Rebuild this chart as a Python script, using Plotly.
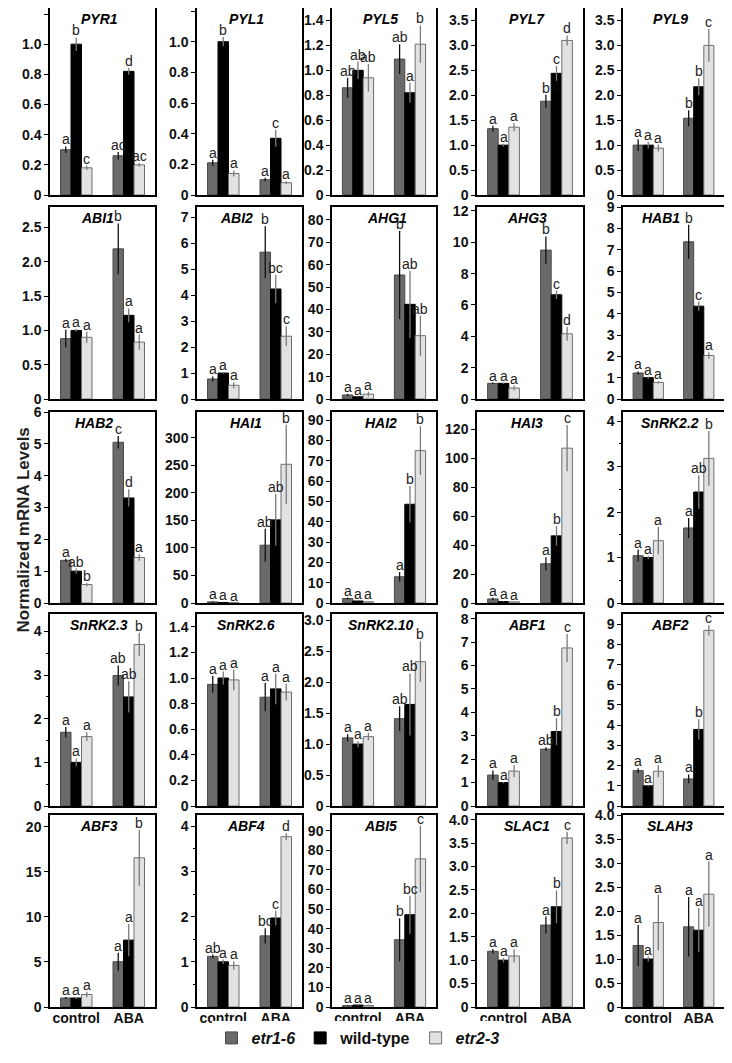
import plotly.graph_objects as go

genes = ["PYR1", "PYL1", "PYL5", "PYL7", "PYL9",
         "ABI1", "ABI2", "AHG1", "AHG3", "HAB1",
         "HAB2", "HAI1", "HAI2", "HAI3", "SnRK2.2",
         "SnRK2.3", "SnRK2.6", "SnRK2.10", "ABF1", "ABF2",
         "ABF3", "ABF4", "ABI5", "SLAC1", "SLAH3"]
conditions = ["control", "ABA"]
series_names = ["etr1-6", "wild-type", "etr2-3"]

# [control, ABA] per gene
etr1_6 = [[0.30, 0.26], [0.21, 0.10], [0.86, 1.09], [1.33, 1.88], [1.00, 1.54],
          [0.88, 2.19], [0.77, 5.66], [1.8, 55.4], [1.00, 9.5], [1.22, 7.37],
          [1.34, 5.05], [2.0, 105], [2.2, 12.9], [2.8, 27.1], [1.04, 1.65],
          [1.69, 2.99], [0.95, 0.85], [1.10, 1.41], [1.32, 2.43], [1.75, 1.34],
          [1.0, 5.02], [1.12, 1.575], [0.7, 34.3], [1.19, 1.75], [1.28, 1.67]]
wild_type = [[1.00, 0.82], [1.00, 0.37], [1.00, 0.82], [1.00, 2.44], [1.00, 2.17],
             [1.00, 1.22], [1.00, 4.24], [1.0, 42.3], [1.00, 6.65], [1.00, 4.35],
             [1.00, 3.30], [1.0, 151], [1.0, 48.6], [1.0, 46.4], [1.00, 2.44],
             [1.00, 2.50], [1.00, 0.915], [1.00, 1.64], [1.00, 3.18], [1.00, 3.79],
             [1.0, 7.42], [1.00, 1.97], [1.0, 47.1], [1.00, 2.14], [1.00, 1.60]]
etr2_3 = [[0.18, 0.20], [0.14, 0.08], [0.94, 1.21], [1.36, 3.10], [0.94, 3.00],
          [0.90, 0.83], [0.53, 2.42], [2.2, 28.3], [0.70, 4.16], [0.78, 2.04],
          [0.58, 1.43], [0.5, 252], [0.6, 75], [0.8, 107], [1.37, 3.18],
          [1.59, 3.70], [0.985, 0.89], [1.12, 2.33], [1.49, 6.75], [1.72, 8.69],
          [1.39, 16.55], [0.92, 3.77], [0.8, 75.6], [1.09, 3.61], [1.76, 2.35]]

etr1_6_err = [[0.022, 0.025], [0.02, 0.012], [0.08, 0.12], [0.06, 0.13], [0.12, 0.16],
              [0.13, 0.37], [0.1, 1.0], [0.5, 19.7], [0.05, 0.87], [0.07, 0.8],
              [0.05, 0.2], [1.0, 30], [0.5, 2.3], [0.8, 4.6], [0.13, 0.22],
              [0.12, 0.23], [0.065, 0.11], [0.06, 0.2], [0.2, 0.08], [0.12, 0.22],
              [0.1, 1.0], [0.04, 0.17], [0.2, 11], [0.05, 0.18], [0.43, 0.62]]
wild_type_err = [[0.045, 0.022], [0.03, 0.055], [0.07, 0.08], [0.03, 0.15], [0.07, 0.17],
                 [0.02, 0.10], [0.03, 0.55], [0.1, 15], [0.05, 0.27], [0.05, 0.22],
                 [0.08, 0.27], [0.3, 47], [0.2, 9], [0.3, 6.8], [0.04, 0.37],
                 [0.09, 0.36], [0.05, 0.12], [0.05, 0.5], [0.03, 0.57], [0.03, 0.5],
                 [0.1, 1.8], [0.05, 0.16], [0.2, 9.7], [0.05, 0.35], [0.05, 0.46]]
etr2_3_err = [[0.015, 0.012], [0.02, 0.01], [0.11, 0.15], [0.08, 0.1], [0.07, 0.33],
              [0.08, 0.11], [0.12, 0.38], [1.1, 9], [0.15, 0.45], [0.05, 0.15],
              [0.05, 0.1], [0.2, 72], [0.2, 12], [0.2, 16], [0.3, 0.6],
              [0.1, 0.27], [0.08, 0.065], [0.06, 0.33], [0.25, 0.6], [0.3, 0.25],
              [0.3, 3.1], [0.09, 0.08], [0.3, 17], [0.14, 0.13], [0.58, 0.68]]

etr1_6_letters = [["a", "ac"], ["a", "a"], ["ab", "ab"], ["a", "b"], ["a", "b"],
                  ["a", "b"], ["a", "b"], ["a", "b"], ["a", "b"], ["a", "b"],
                  ["a", "c"], ["a", "ab"], ["a", "a"], ["a", "a"], ["a", "a"],
                  ["a", "ab"], ["a", "a"], ["a", "ab"], ["a", "ab"], ["a", "a"],
                  ["a", "a"], ["ab", "bc"], ["a", "b"], ["a", "a"], ["a", "a"]]
wild_type_letters = [["b", "d"], ["b", "c"], ["ab", "a"], ["a", "c"], ["a", "b"],
                     ["a", "a"], ["a", "bc"], ["a", "ab"], ["a", "c"], ["a", "c"],
                     ["ab", "d"], ["a", "ab"], ["a", "b"], ["a", "b"], ["a", "ab"],
                     ["a", "ab"], ["a", "a"], ["a", "ab"], ["a", "b"], ["a", "b"],
                     ["a", "a"], ["a", "c"], ["a", "bc"], ["a", "b"], ["a", "a"]]
etr2_3_letters = [["c", "ac"], ["a", "a"], ["ab", "b"], ["a", "d"], ["a", "c"],
                  ["a", "a"], ["a", "c"], ["a", "ab"], ["a", "d"], ["a", "a"],
                  ["b", "a"], ["a", "b"], ["a", "b"], ["a", "c"], ["a", "b"],
                  ["a", "b"], ["a", "a"], ["a", "b"], ["a", "c"], ["a", "c"],
                  ["a", "b"], ["a", "d"], ["a", "c"], ["a", "c"], ["a", "a"]]

# y axis: top of range, tick step, minor ticks
y_max = [1.24, 1.22, 1.5, 3.75, 3.75,
         2.8, 7.4, 85.8, 12.25, 9.0,
         6.0, 347, 94, 132, 4.2,
         4.4, 1.5, 3.1, 8.2, 9.5,
         21.3, 4.25, 98, 4.1, 4.0]
y_step = [0.2, 0.2, 0.2, 0.5, 0.5,
          0.5, 1, 10, 2, 1,
          1, 50, 10, 20, 1,
          1, 0.2, 0.5, 1, 1,
          5, 1, 10, 0.5, 0.5]
minor_genes = ["SnRK2.2", "SnRK2.3", "ABF4"]
# titles sit left of centre where a letter would hit them
title_shift = {"ABI1": 0.28, "ABI2": 0.38, "AHG1": 0.32, "HAB1": 0.38, "HAB2": 0.42}

# the page adds an 8px body margin; the figure fits inside it exactly
OFF = 8
W, H = 716, 1047
col_px = [(50, 155), (197, 302), (332, 436), (477, 583), (623, 729)]
row_px = [(3, 195), (207, 399), (412, 603), (614, 806), (815, 1007)]


def px_x(p):
    return min(1.0, max(0.0, (p - OFF) / W))


def px_y(p):
    return min(1.0, max(0.0, 1 - (p - OFF) / H))


colors = ["#6a6a6a", "#000000", "#e2e2e2"]
line_colors = ["#4a4a4a", "#000000", "#6e6e6e"]
err_colors = ["#111111", "#7a7a7a", "#7a7a7a"]
FONT = "Liberation Sans"

values = [etr1_6, wild_type, etr2_3]
errors = [etr1_6_err, wild_type_err, etr2_3_err]
letters = [etr1_6_letters, wild_type_letters, etr2_3_letters]

fig = go.Figure()
annotations = []
layout = {}

for i, gene in enumerate(genes):
    r, c = divmod(i, 5)
    n = i + 1
    xa = "x" if n == 1 else f"x{n}"
    ya = "y" if n == 1 else f"y{n}"
    for k in range(3):
        fig.add_trace(go.Bar(
            x=conditions, y=values[k][i], name=series_names[k],
            xaxis=xa, yaxis=ya, offsetgroup=str(k),
            marker=dict(color=colors[k], line=dict(color=line_colors[k], width=1)),
            error_y=dict(type="data", array=errors[k][i], width=0,
                         thickness=1.3, color=err_colors[k]),
            showlegend=(i == 0), legendgroup=series_names[k],
        ))
        for g in range(2):
            annotations.append(dict(
                x=g + (k - 1) * 0.2, y=values[k][i][g] + errors[k][i][g],
                xref=xa, yref=ya, text=letters[k][i][g], showarrow=False,
                yanchor="bottom", yshift=-3,
                font=dict(family=FONT, size=14, color="#222222")))

    x0, x1 = col_px[c]
    y0, y1 = row_px[r]
    step = y_step[i]
    dec = 1 if step < 1 else 0
    tickvals = []
    t = 0
    while t <= y_max[i] + 1e-9:
        tickvals.append(round(t, 4))
        t += step
    ticktext = ["0" if v == 0 else f"{v:.{dec}f}" for v in tickvals]

    ykey = "yaxis" if n == 1 else f"yaxis{n}"
    xkey = "xaxis" if n == 1 else f"xaxis{n}"
    layout[xkey] = dict(
        domain=[px_x(x0), px_x(x1)], anchor=ya, type="category",
        range=[-0.5, 1.5], showline=True, mirror=True, linecolor="black",
        linewidth=1.5, ticks="", showgrid=False, showticklabels=(r == 4),
        ticklabelstandoff=-3,
        tickfont=dict(family=FONT, size=14, color="#111111", weight="bold"),
        automargin=False, fixedrange=True)
    ymin = dict(ticks="outside", ticklen=2, dtick=step / 2, tick0=0,
                tickcolor="black", showgrid=False) if gene in minor_genes else None
    layout[ykey] = dict(
        domain=[px_y(y1), px_y(y0)], anchor=xa, range=[0, y_max[i]],
        showline=True, mirror=True, linecolor="black", linewidth=1.5,
        ticks="outside", ticklen=4, tickcolor="black", showgrid=False,
        zeroline=False, tickvals=tickvals, ticktext=ticktext,
        tickfont=dict(family=FONT, size=14, color="#111111", weight="bold"),
        automargin=False, fixedrange=True)
    if ymin:
        layout[ykey]["minor"] = ymin

    annotations.append(dict(
        x=title_shift.get(gene, 0.47), y=0.995,
        xref=f"{xa} domain", yref=f"{ya} domain",
        text=f"<b><i>{gene}</i></b>", showarrow=False, yanchor="top",
        font=dict(family=FONT, size=14, color="black")))

annotations.append(dict(
    x=px_x(11), y=px_y(530), xref="paper", yref="paper",
    text="<b>Normalized mRNA Levels</b>", textangle=-90, showarrow=False,
    font=dict(family=FONT, size=17, color="#222222")))

fig.update_layout(
    width=W, height=H, margin=dict(l=0, r=0, t=0, b=0),
    paper_bgcolor="white", plot_bgcolor="white",
    barmode="group", bargap=0.4, bargroupgap=0,
    annotations=annotations,
    legend=dict(orientation="h", x=px_x(358), xanchor="center",
                y=0, yanchor="bottom",
                font=dict(family=FONT, size=16, color="#111111", weight="bold"),
                itemwidth=30, tracegroupgap=0),
    **layout,
)
fig.for_each_trace(lambda tr: tr.update(
    name={"etr1-6": "<b><i>etr1-6</i></b>", "wild-type": "<b>wild-type</b>",
          "etr2-3": "<b><i>etr2-3</i></b>"}[tr.name]))

fig.write_html("out.html")
